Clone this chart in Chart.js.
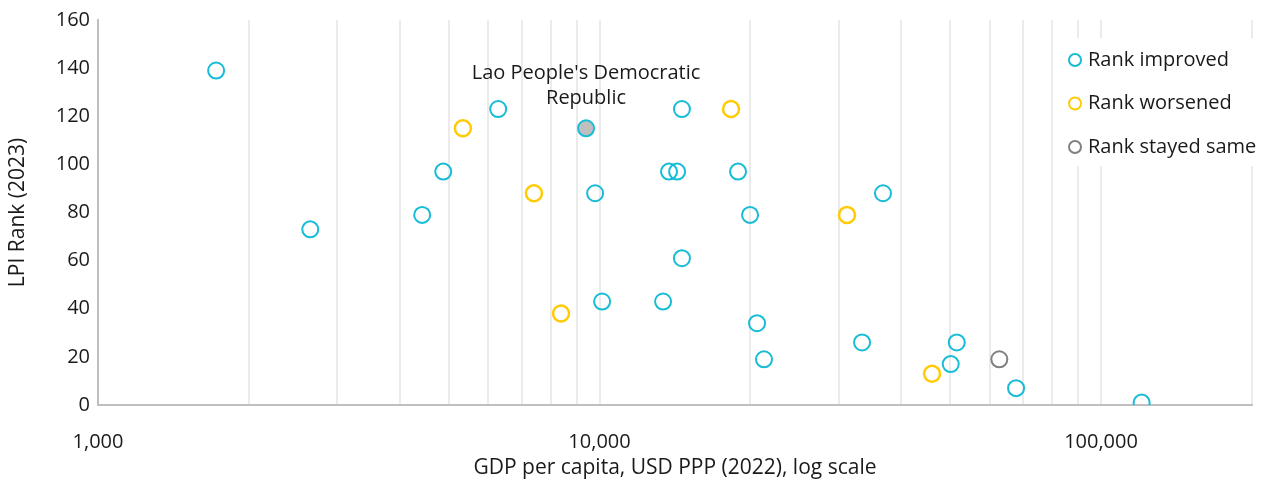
<!DOCTYPE html>
<html>
<head>
<meta charset="utf-8">
<script src="https://cdn.jsdelivr.net/npm/chart.js@4/dist/chart.umd.min.js"></script>
<style>
  html, body { margin: 0; padding: 0; background: #ffffff; }
  #wrap { width: 1269px; height: 479px; }
</style>
</head>
<body>
<div id="wrap"><canvas id="c" width="1269" height="479"></canvas></div>
<script>
// GDP per capita (USD PPP, 2022) and LPI rank (2023), grouped by rank change
const improvedGdp  = [1720, 2650, 4430, 4880, 6280, 9400, 9800, 10120, 13390, 13760, 14280, 14600, 14600, 18890, 19960, 20610, 21280, 33380, 36750, 50150, 51560, 67700, 120500];
const improvedRank = [139, 73, 79, 97, 123, 115, 88, 43, 43, 97, 97, 123, 61, 97, 79, 34, 19, 26, 88, 17, 26, 7, 1];
const worsenedGdp  = [5340, 7400, 8380, 18290, 31150, 46030];
const worsenedRank = [115, 88, 38, 123, 79, 13];
const sameGdp  = [62690];
const sameRank = [19];

const seriesNames = ['Rank improved', 'Rank worsened', 'Rank stayed same'];
const xTickLabels = [1000, 10000, 100000];
const yTicks = [0, 20, 40, 60, 80, 100, 120, 140, 160];

// highlighted economy (index into the "improved" series)
const highlightIndex = 5;
const highlightLines = ["Lao People's Democratic", 'Republic'];

const FONT = '"Open Sans", Lato, sans-serif';
const FONT_SIZE = 20;
const TITLE_SIZE = 21;
const BLUE = '#17BCD6';
const YELLOW = '#FFCB05';
const GREY = '#808080';
const TEXT = '#1a1a1a';

const toPoints = (xs, ys) => xs.map((x, i) => ({ x: x, y: ys[i] }));

// log-scale grid: 1..9 steps in each decade up to the axis max
function logGridValues(min, max) {
  const vals = [];
  for (let d = min; d <= max; d *= 10) {
    for (let m = 1; m <= 9; m++) {
      const v = m * d;
      if (v > max) return vals;
      vals.push(v);
    }
  }
  return vals;
}

const annotatePlugin = {
  id: 'annotate',
  afterDatasetsDraw(chart) {
    const ctx = chart.ctx;
    const el = chart.getDatasetMeta(0).data[highlightIndex];
    if (!el) return;
    ctx.save();
    ctx.fillStyle = TEXT;
    ctx.font = FONT_SIZE + 'px ' + FONT;
    ctx.textAlign = 'center';
    ctx.textBaseline = 'middle';
    ctx.fillText(highlightLines[0], el.x, el.y - 55);
    ctx.fillText(highlightLines[1], el.x, el.y - 30);
    ctx.restore();
  }
};

const legendPlugin = {
  id: 'sideLegend',
  afterDraw(chart) {
    const ctx = chart.ctx;
    const area = chart.chartArea;
    const x0 = area.right - 194;
    const y0 = 38;
    ctx.save();
    ctx.fillStyle = '#ffffff';
    ctx.fillRect(x0, y0, chart.width - x0, 128);
    ctx.font = FONT_SIZE + 'px ' + FONT;
    ctx.textBaseline = 'middle';
    ctx.textAlign = 'left';
    chart.data.datasets.forEach((ds, i) => {
      const cy = y0 + 22 + i * 43.5;
      ctx.beginPath();
      ctx.arc(x0 + 17, cy, 6, 0, Math.PI * 2);
      ctx.lineWidth = 2;
      ctx.strokeStyle = ds.borderColor;
      ctx.stroke();
      ctx.fillStyle = TEXT;
      ctx.fillText(ds.label, x0 + 30, cy);
    });
    ctx.restore();
  }
};

new Chart(document.getElementById('c'), {
  type: 'scatter',
  data: {
    datasets: [
      {
        label: seriesNames[0],
        data: toPoints(improvedGdp, improvedRank),
        borderColor: BLUE,
        backgroundColor: (c) => c.dataIndex === highlightIndex ? '#BFBFBF' : 'rgba(255,255,255,0)',
        borderWidth: 2,
        pointRadius: 8,
        pointHoverRadius: 8
      },
      {
        label: seriesNames[1],
        data: toPoints(worsenedGdp, worsenedRank),
        borderColor: YELLOW,
        backgroundColor: 'rgba(255,255,255,0)',
        borderWidth: 2.5,
        pointRadius: 8,
        pointHoverRadius: 8
      },
      {
        label: seriesNames[2],
        data: toPoints(sameGdp, sameRank),
        borderColor: GREY,
        backgroundColor: 'rgba(255,255,255,0)',
        borderWidth: 2,
        pointRadius: 8,
        pointHoverRadius: 8
      }
    ]
  },
  options: {
    responsive: false,
    animation: false,
    layout: { padding: { top: 12, right: 17, left: 3, bottom: 0 } },
    plugins: {
      legend: { display: false },
      tooltip: { enabled: false }
    },
    scales: {
      x: {
        type: 'logarithmic',
        min: 1000,
        max: 200000,
        afterBuildTicks: (axis) => { axis.ticks = logGridValues(1000, 200000).map(v => ({ value: v })); },
        afterFit: (axis) => { axis.height = 74; axis.paddingRight = 0; axis.paddingLeft = 0; },
        grid: { color: '#EBEBEB', lineWidth: 2, drawTicks: false },
        border: { color: '#BFBFBF', width: 2 },
        ticks: {
          autoSkip: false,
          maxRotation: 0,
          padding: 25,
          color: TEXT,
          font: { family: FONT, size: FONT_SIZE },
          callback: (v) => xTickLabels.includes(v) ? v.toLocaleString('en-US') : ''
        },
        title: {
          display: true,
          text: 'GDP per capita, USD PPP (2022), log scale',
          color: TEXT,
          font: { family: FONT, size: TITLE_SIZE },
          padding: { top: 0, bottom: -2 }
        }
      },
      y: {
        min: 0,
        max: 160,
        afterBuildTicks: (axis) => { axis.ticks = yTicks.map(v => ({ value: v })); },
        afterFit: (axis) => { axis.width = 95; },
        grid: { display: false, drawTicks: false },
        border: { color: '#BFBFBF', width: 2 },
        ticks: {
          padding: 8,
          color: TEXT,
          font: { family: FONT, size: FONT_SIZE }
        },
        title: {
          display: true,
          text: 'LPI Rank (2023)',
          color: TEXT,
          font: { family: FONT, size: TITLE_SIZE },
          padding: { top: 2, bottom: 10 }
        }
      }
    }
  },
  plugins: [annotatePlugin, legendPlugin]
});
</script>
</body>
</html>
